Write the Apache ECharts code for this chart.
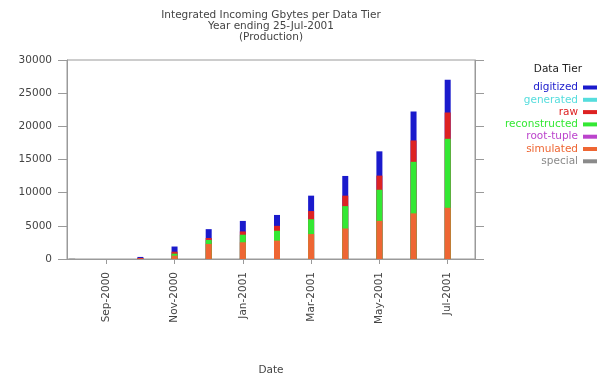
<!DOCTYPE html>
<html>
<head>
<meta charset="utf-8">
<script src="https://cdn.jsdelivr.net/npm/echarts@6/dist/echarts.min.js"></script>
<style>
  html, body { margin: 0; padding: 0; background: #fff; }
  #chart { width: 613px; height: 381px; }
</style>
</head>
<body>
<div id="chart"></div>
<script>
// Monthly bars, Aug-2000 .. Jul-2001 (x = month offset from Aug-2000)
const months = ['Aug-2000', 'Sep-2000', 'Oct-2000', 'Nov-2000', 'Dec-2000', 'Jan-2001',
  'Feb-2001', 'Mar-2001', 'Apr-2001', 'May-2001', 'Jun-2001', 'Jul-2001']
const tickMonths = [1, 3, 5, 7, 9, 11]

// Gbytes per tier (stack bottom -> top)
const special       = [60, 0, 0, 0, 0, 0, 0, 0, 0, 0, 0, 0]
const simulated     = [0, 0, 80, 500, 2270, 2520, 2770, 3760, 4600, 5740, 6880, 7720]
const rootTuple     = [0, 0, 0, 0, 0, 0, 0, 0, 0, 0, 0, 0]
const reconstructed = [0, 0, 0, 300, 600, 1140, 1490, 2230, 3370, 4700, 7770, 10400]
const raw           = [0, 0, 80, 300, 300, 500, 740, 1240, 1580, 2130, 3220, 3960]
const generated     = [0, 0, 0, 0, 0, 0, 0, 0, 0, 0, 0, 0]
const digitized     = [0, 0, 150, 780, 1330, 1580, 1640, 2320, 2970, 3660, 4360, 4950]

const tiers = [
  { name: 'special', data: special, color: '#8a8a8a' },
  { name: 'simulated', data: simulated, color: '#ee6633' },
  { name: 'root-tuple', data: rootTuple, color: '#bb44cc' },
  { name: 'reconstructed', data: reconstructed, color: '#33e833' },
  { name: 'raw', data: raw, color: '#dd2222' },
  { name: 'generated', data: generated, color: '#55dddd' },
  { name: 'digitized', data: digitized, color: '#1a1acc' },
]
const legendOrder = ['digitized', 'generated', 'raw', 'reconstructed', 'root-tuple', 'simulated', 'special']

const font = 'DejaVu Sans'
const axisGray = '#9a9a9a'
const textGray = '#444'

// The x axis is a value axis (uneven padding), where ECharts' own stack
// won't stack on y, so each bar is drawn from 0 to its running total and
// the series overlap (top tier first, lower tiers drawn over it).
let running = months.map(() => 0)
const stacked = tiers.map((t) => {
  running = running.map((r, i) => r + t.data[i])
  return { ...t, top: running.slice() }
})

const chart = echarts.init(document.getElementById('chart'))

const yBase = {
  type: 'value',
  min: 0,
  max: 30000,
  interval: 5000,
  axisLine: { show: true, onZero: false, lineStyle: { color: axisGray } },
  axisTick: { show: true, inside: false, length: 9, lineStyle: { color: axisGray } },
  splitLine: { show: false },
}

chart.setOption({
  animation: false,
  backgroundColor: '#fff',
  textStyle: { fontFamily: font },
  grid: {
    left: 67, right: 138, top: 60, bottom: 119,
    show: true, borderColor: axisGray, borderWidth: 1, backgroundColor: '#fff',
  },
  graphic: [
    {
      type: 'text', x: 271, y: 10,
      style: {
        text: 'Integrated Incoming Gbytes per Data Tier\nYear ending 25-Jul-2001\n(Production)',
        align: 'center', fontFamily: font, fontSize: 10.5, lineHeight: 11, fill: textGray,
      },
    },
    {
      type: 'text', x: 582, y: 64,
      style: { text: 'Data Tier', align: 'right', fontFamily: font, fontSize: 10.5, fill: '#222' },
    },
  ],
  xAxis: {
    type: 'value',
    min: -0.15,
    max: 11.8,
    name: 'Date',
    nameLocation: 'middle',
    nameGap: 106,
    nameTextStyle: { color: textGray, fontSize: 10.5, fontFamily: font },
    axisLine: { show: true, onZero: false, lineStyle: { color: axisGray } },
    axisTick: { show: true, length: 5, customValues: tickMonths, lineStyle: { color: axisGray } },
    axisLabel: {
      customValues: tickMonths,
      rotate: 90,
      margin: 13,
      color: textGray,
      fontSize: 10.5,
      fontFamily: font,
      formatter: (v) => months[Math.round(v)] || '',
    },
    splitLine: { show: false },
  },
  yAxis: [
    {
      ...yBase,
      position: 'left',
      axisLabel: { color: textGray, fontSize: 10.5, fontFamily: font, margin: 15, formatter: (v) => String(v) },
    },
    {
      ...yBase,
      position: 'right',
      axisLabel: { show: false },
    },
  ],
  legend: {
    orient: 'vertical',
    right: 11,
    top: 77,
    align: 'right',
    icon: 'rect',
    itemWidth: 14,
    itemHeight: 4,
    itemGap: 1.3,
    textStyle: { fontSize: 10.5, fontFamily: font, padding: [0, 0, 0, 0] },
    data: legendOrder.map((n) => ({
      name: n,
      textStyle: { color: tiers.find((t) => t.name === n).color },
    })),
  },
  series: stacked.slice().reverse().map((t, k) => ({
    name: t.name,
    type: 'bar',
    barWidth: 6,
    barGap: '-100%',
    z: 2 + k,
    itemStyle: { color: t.color },
    data: t.top.map((v, i) => [i, t.data[i] > 0 ? v : 0]),
  })),
})
</script>
</body>
</html>
